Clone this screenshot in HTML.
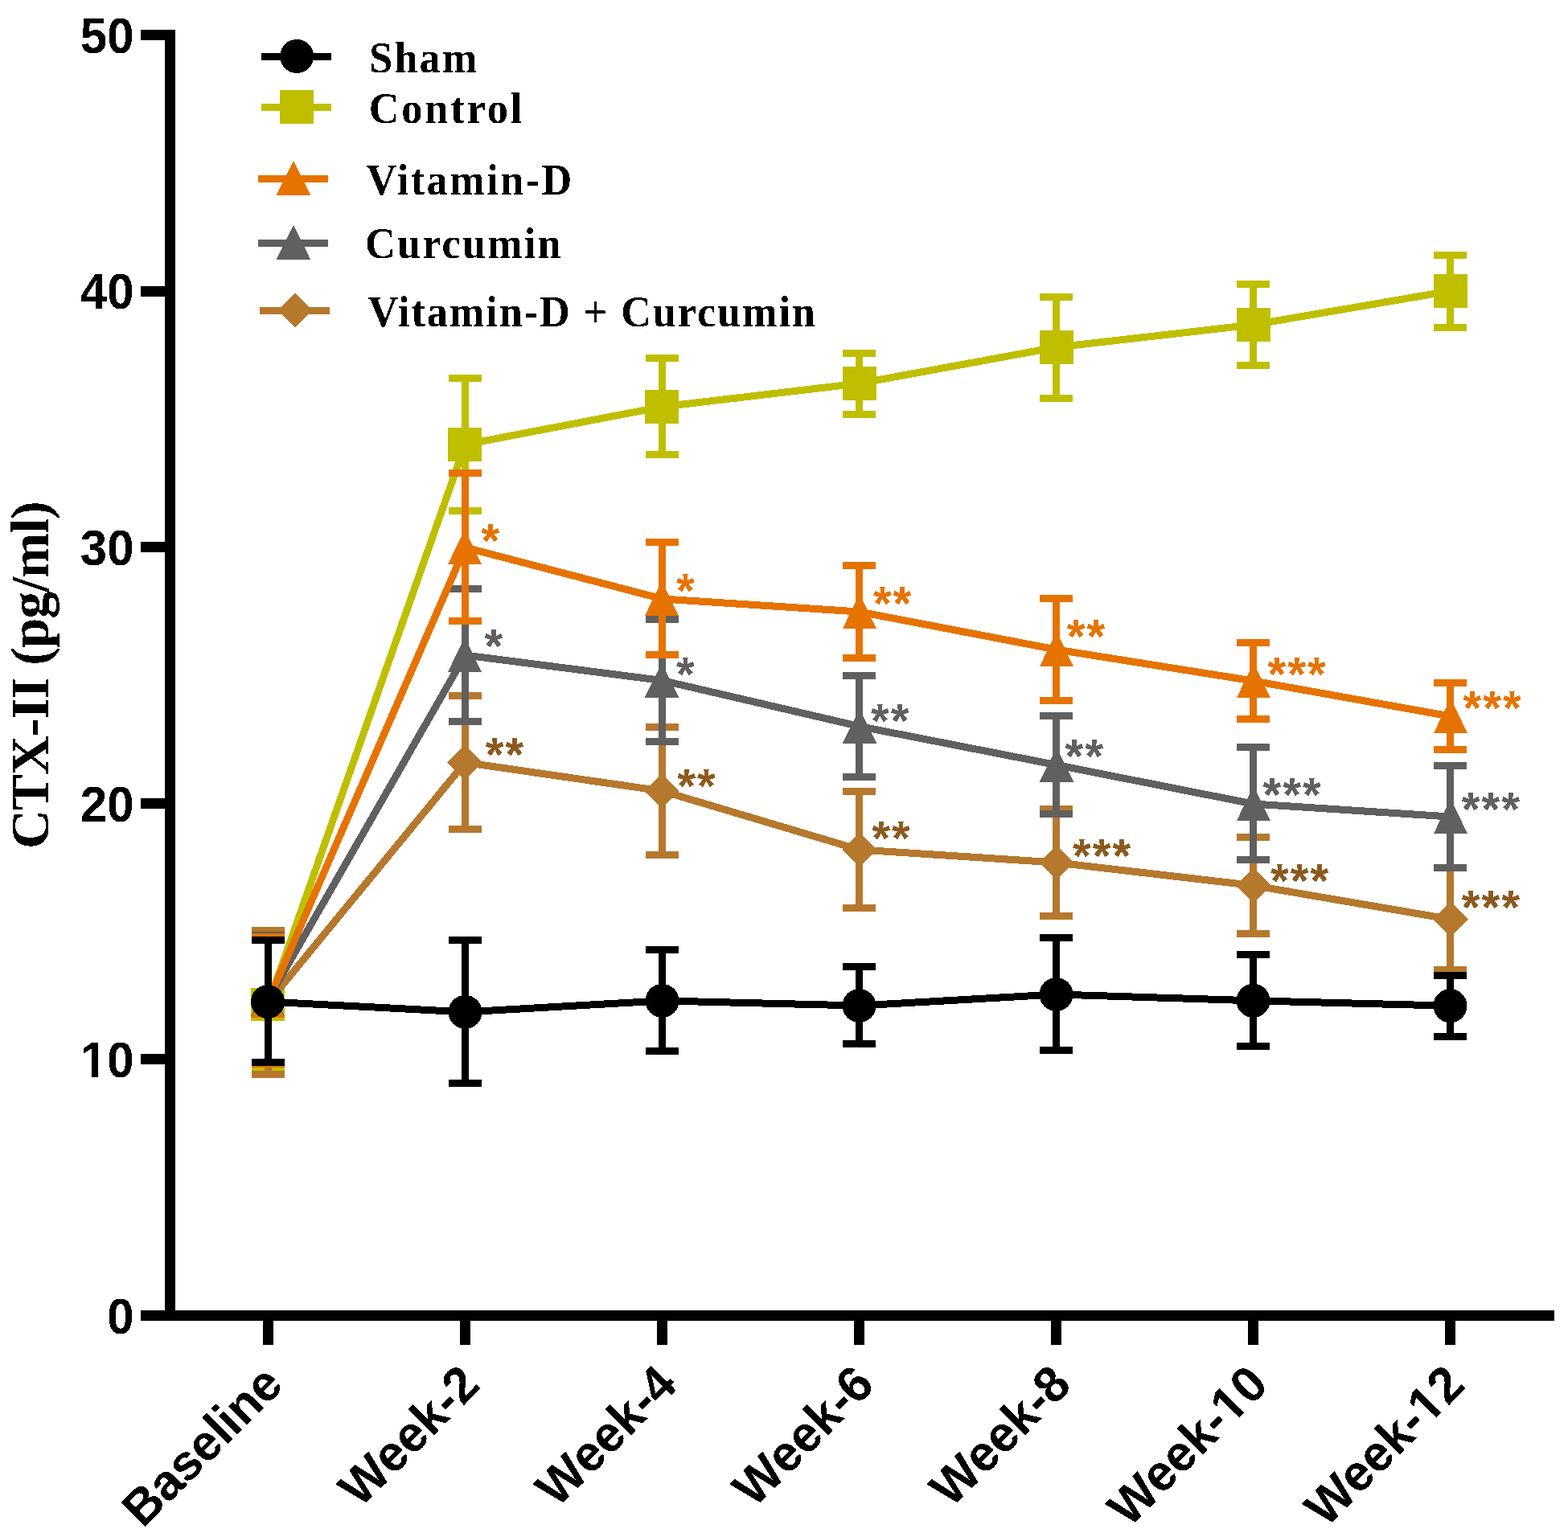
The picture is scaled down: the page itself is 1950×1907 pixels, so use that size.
<!DOCTYPE html>
<html lang="en"><head><meta charset="utf-8"><title>CTX-II (pg/ml)</title>
<style>html,body{margin:0;padding:0;background:#fff}svg{display:block}.sans{font-family:"Liberation Sans",Arial,Helvetica,sans-serif;font-weight:bold}.serif{font-family:"Liberation Serif","Times New Roman",Times,serif;font-weight:bold}</style></head><body>
<svg width="1950" height="1907" viewBox="0 0 1950 1907">
<defs><filter id="thr" filterUnits="userSpaceOnUse" x="0" y="0" width="1950" height="1907" color-interpolation-filters="sRGB"><feComponentTransfer><feFuncA type="discrete" tableValues="0 1"/></feComponentTransfer></filter></defs>
<rect width="1950" height="1907" fill="#fff"/>
<g fill="#000" shape-rendering="crispEdges">
<rect x="205" y="37" width="13" height="1606"/>
<rect x="175" y="1630" width="1758" height="13"/>
<rect x="175" y="1311" width="31" height="13"/>
<rect x="175" y="993" width="31" height="13"/>
<rect x="175" y="674" width="31" height="13"/>
<rect x="175" y="356" width="31" height="13"/>
<rect x="175" y="37" width="31" height="13"/>
<rect x="327" y="1642" width="13" height="31"/>
<rect x="572" y="1642" width="13" height="31"/>
<rect x="817" y="1642" width="13" height="31"/>
<rect x="1062" y="1642" width="13" height="31"/>
<rect x="1307" y="1642" width="13" height="31"/>
<rect x="1552" y="1642" width="13" height="31"/>
<rect x="1797" y="1642" width="13" height="31"/>
</g>
<g shape-rendering="crispEdges">
<polyline points="333.5,1249.5 578.5,553.0 823.5,506.0 1068.5,477.0 1313.5,432.0 1558.5,404.0 1803.5,362.0" fill="none" stroke="#BFBF00" stroke-width="9" stroke-linejoin="round"/>
<rect x="329" y="1165" width="9" height="167" fill="#BFBF00"/>
<rect x="313" y="1165" width="41" height="9" fill="#BFBF00"/>
<rect x="313" y="1323" width="41" height="9" fill="#BFBF00"/>
<rect x="574" y="466" width="9" height="174" fill="#BFBF00"/>
<rect x="558" y="466" width="41" height="9" fill="#BFBF00"/>
<rect x="558" y="631" width="41" height="9" fill="#BFBF00"/>
<rect x="819" y="441" width="9" height="129" fill="#BFBF00"/>
<rect x="803" y="441" width="41" height="9" fill="#BFBF00"/>
<rect x="803" y="561" width="41" height="9" fill="#BFBF00"/>
<rect x="1064" y="435" width="9" height="85" fill="#BFBF00"/>
<rect x="1048" y="435" width="41" height="9" fill="#BFBF00"/>
<rect x="1048" y="511" width="41" height="9" fill="#BFBF00"/>
<rect x="1309" y="365" width="9" height="135" fill="#BFBF00"/>
<rect x="1293" y="365" width="41" height="9" fill="#BFBF00"/>
<rect x="1293" y="491" width="41" height="9" fill="#BFBF00"/>
<rect x="1554" y="349" width="9" height="110" fill="#BFBF00"/>
<rect x="1538" y="349" width="41" height="9" fill="#BFBF00"/>
<rect x="1538" y="450" width="41" height="9" fill="#BFBF00"/>
<rect x="1799" y="313" width="9" height="99" fill="#BFBF00"/>
<rect x="1783" y="313" width="41" height="9" fill="#BFBF00"/>
<rect x="1783" y="403" width="41" height="9" fill="#BFBF00"/>
<rect x="312" y="1229" width="42" height="41" fill="#BFBF00"/>
<rect x="557.0" y="532.0" width="42" height="42" fill="#BFBF00"/>
<rect x="802.0" y="485.0" width="42" height="42" fill="#BFBF00"/>
<rect x="1048.0" y="456.0" width="42" height="42" fill="#BFBF00"/>
<rect x="1293.0" y="411.0" width="42" height="42" fill="#BFBF00"/>
<rect x="1538.0" y="383.0" width="42" height="42" fill="#BFBF00"/>
<rect x="1783.0" y="341.0" width="42" height="42" fill="#BFBF00"/>
</g>
<g shape-rendering="crispEdges">
<polyline points="333.5,1247.0 578.5,948.5 823.5,984.0 1068.5,1057.0 1313.5,1073.0 1558.5,1101.5 1803.5,1143.5" fill="none" stroke="#B5782D" stroke-width="9" stroke-linejoin="round"/>
<rect x="329" y="1153" width="9" height="188" fill="#B5782D"/>
<rect x="313" y="1153" width="41" height="9" fill="#B5782D"/>
<rect x="313" y="1332" width="41" height="9" fill="#B5782D"/>
<rect x="574" y="861" width="9" height="175" fill="#B5782D"/>
<rect x="558" y="861" width="41" height="9" fill="#B5782D"/>
<rect x="558" y="1027" width="41" height="9" fill="#B5782D"/>
<rect x="819" y="900" width="9" height="168" fill="#B5782D"/>
<rect x="803" y="900" width="41" height="9" fill="#B5782D"/>
<rect x="803" y="1059" width="41" height="9" fill="#B5782D"/>
<rect x="1064" y="980" width="9" height="154" fill="#B5782D"/>
<rect x="1048" y="980" width="41" height="9" fill="#B5782D"/>
<rect x="1048" y="1125" width="41" height="9" fill="#B5782D"/>
<rect x="1309" y="1002" width="9" height="142" fill="#B5782D"/>
<rect x="1293" y="1002" width="41" height="9" fill="#B5782D"/>
<rect x="1293" y="1135" width="41" height="9" fill="#B5782D"/>
<rect x="1554" y="1037" width="9" height="129" fill="#B5782D"/>
<rect x="1538" y="1037" width="41" height="9" fill="#B5782D"/>
<rect x="1538" y="1157" width="41" height="9" fill="#B5782D"/>
<rect x="1799" y="1075" width="9" height="136" fill="#B5782D"/>
<rect x="1783" y="1075" width="41" height="9" fill="#B5782D"/>
<rect x="1783" y="1202" width="41" height="9" fill="#B5782D"/>
<path d="M333.0 1225.5L355.0 1247.0L333.0 1268.5L311.0 1247.0Z" fill="#B5782D"/>
<path d="M578.0 927.0L600.0 948.5L578.0 970.0L556.0 948.5Z" fill="#B5782D"/>
<path d="M823.0 962.5L845.0 984.0L823.0 1005.5L801.0 984.0Z" fill="#B5782D"/>
<path d="M1069.0 1035.5L1091.0 1057.0L1069.0 1078.5L1047.0 1057.0Z" fill="#B5782D"/>
<path d="M1314.0 1051.5L1336.0 1073.0L1314.0 1094.5L1292.0 1073.0Z" fill="#B5782D"/>
<path d="M1559.0 1080.0L1581.0 1101.5L1559.0 1123.0L1537.0 1101.5Z" fill="#B5782D"/>
<path d="M1804.0 1122.0L1826.0 1143.5L1804.0 1165.0L1782.0 1143.5Z" fill="#B5782D"/>
</g>
<g shape-rendering="crispEdges">
<polyline points="333.5,1243.0 578.5,815.0 823.5,846.5 1068.5,903.5 1313.5,951.5 1558.5,1000.0 1803.5,1016.0" fill="none" stroke="#606060" stroke-width="9" stroke-linejoin="round"/>
<rect x="329" y="1159" width="9" height="168" fill="#606060"/>
<rect x="313" y="1159" width="41" height="9" fill="#606060"/>
<rect x="313" y="1318" width="41" height="9" fill="#606060"/>
<rect x="574" y="728" width="9" height="174" fill="#606060"/>
<rect x="558" y="728" width="41" height="9" fill="#606060"/>
<rect x="558" y="893" width="41" height="9" fill="#606060"/>
<rect x="819" y="766" width="9" height="161" fill="#606060"/>
<rect x="803" y="766" width="41" height="9" fill="#606060"/>
<rect x="803" y="918" width="41" height="9" fill="#606060"/>
<rect x="1064" y="836" width="9" height="135" fill="#606060"/>
<rect x="1048" y="836" width="41" height="9" fill="#606060"/>
<rect x="1048" y="962" width="41" height="9" fill="#606060"/>
<rect x="1309" y="886" width="9" height="131" fill="#606060"/>
<rect x="1293" y="886" width="41" height="9" fill="#606060"/>
<rect x="1293" y="1008" width="41" height="9" fill="#606060"/>
<rect x="1554" y="925" width="9" height="149" fill="#606060"/>
<rect x="1538" y="925" width="41" height="9" fill="#606060"/>
<rect x="1538" y="1065" width="41" height="9" fill="#606060"/>
<rect x="1799" y="948" width="9" height="136" fill="#606060"/>
<rect x="1783" y="948" width="41" height="9" fill="#606060"/>
<rect x="1783" y="1075" width="41" height="9" fill="#606060"/>
<path d="M333.0 1221.2L354.2 1264.0L311.8 1264.0Z" fill="#606060"/>
<path d="M578.0 793.2L599.2 836.0L556.8 836.0Z" fill="#606060"/>
<path d="M823.0 824.7L844.2 867.5L801.8 867.5Z" fill="#606060"/>
<path d="M1069.0 881.7L1090.2 924.5L1047.8 924.5Z" fill="#606060"/>
<path d="M1314.0 929.7L1335.2 972.5L1292.8 972.5Z" fill="#606060"/>
<path d="M1559.0 978.2L1580.2 1021.0L1537.8 1021.0Z" fill="#606060"/>
<path d="M1804.0 994.2L1825.2 1037.0L1782.8 1037.0Z" fill="#606060"/>
</g>
<g shape-rendering="crispEdges">
<polyline points="333.5,1245.0 578.5,681.0 823.5,745.0 1068.5,761.0 1313.5,808.0 1558.5,847.0 1803.5,891.0" fill="none" stroke="#E67300" stroke-width="9" stroke-linejoin="round"/>
<rect x="329" y="1161" width="9" height="167" fill="#E67300"/>
<rect x="313" y="1161" width="41" height="9" fill="#E67300"/>
<rect x="313" y="1319" width="41" height="9" fill="#E67300"/>
<rect x="574" y="584" width="9" height="193" fill="#E67300"/>
<rect x="558" y="584" width="41" height="9" fill="#E67300"/>
<rect x="558" y="768" width="41" height="9" fill="#E67300"/>
<rect x="819" y="670" width="9" height="149" fill="#E67300"/>
<rect x="803" y="670" width="41" height="9" fill="#E67300"/>
<rect x="803" y="810" width="41" height="9" fill="#E67300"/>
<rect x="1064" y="699" width="9" height="124" fill="#E67300"/>
<rect x="1048" y="699" width="41" height="9" fill="#E67300"/>
<rect x="1048" y="814" width="41" height="9" fill="#E67300"/>
<rect x="1309" y="740" width="9" height="136" fill="#E67300"/>
<rect x="1293" y="740" width="41" height="9" fill="#E67300"/>
<rect x="1293" y="867" width="41" height="9" fill="#E67300"/>
<rect x="1554" y="795" width="9" height="104" fill="#E67300"/>
<rect x="1538" y="795" width="41" height="9" fill="#E67300"/>
<rect x="1538" y="890" width="41" height="9" fill="#E67300"/>
<rect x="1799" y="845" width="9" height="92" fill="#E67300"/>
<rect x="1783" y="845" width="41" height="9" fill="#E67300"/>
<rect x="1783" y="928" width="41" height="9" fill="#E67300"/>
<path d="M333.0 1223.2L354.2 1266.0L311.8 1266.0Z" fill="#E67300"/>
<path d="M578.0 659.2L599.2 702.0L556.8 702.0Z" fill="#E67300"/>
<path d="M823.0 723.2L844.2 766.0L801.8 766.0Z" fill="#E67300"/>
<path d="M1069.0 739.2L1090.2 782.0L1047.8 782.0Z" fill="#E67300"/>
<path d="M1314.0 786.2L1335.2 829.0L1292.8 829.0Z" fill="#E67300"/>
<path d="M1559.0 825.2L1580.2 868.0L1537.8 868.0Z" fill="#E67300"/>
<path d="M1804.0 869.2L1825.2 912.0L1782.8 912.0Z" fill="#E67300"/>
</g>
<g shape-rendering="crispEdges">
<polyline points="333.5,1246.1 578.5,1258.9 823.5,1244.9 1068.5,1251.0 1313.5,1237.0 1558.5,1244.8 1803.5,1251.2" fill="none" stroke="#000000" stroke-width="9" stroke-linejoin="round"/>
<rect x="329" y="1165" width="9" height="161" fill="#000000"/>
<rect x="313" y="1165" width="41" height="9" fill="#000000"/>
<rect x="313" y="1317" width="41" height="9" fill="#000000"/>
<rect x="574" y="1165" width="9" height="187" fill="#000000"/>
<rect x="558" y="1165" width="41" height="9" fill="#000000"/>
<rect x="558" y="1343" width="41" height="9" fill="#000000"/>
<rect x="819" y="1177" width="9" height="135" fill="#000000"/>
<rect x="803" y="1177" width="41" height="9" fill="#000000"/>
<rect x="803" y="1303" width="41" height="9" fill="#000000"/>
<rect x="1064" y="1198" width="9" height="105" fill="#000000"/>
<rect x="1048" y="1198" width="41" height="9" fill="#000000"/>
<rect x="1048" y="1294" width="41" height="9" fill="#000000"/>
<rect x="1309" y="1162" width="9" height="149" fill="#000000"/>
<rect x="1293" y="1162" width="41" height="9" fill="#000000"/>
<rect x="1293" y="1302" width="41" height="9" fill="#000000"/>
<rect x="1554" y="1183" width="9" height="123" fill="#000000"/>
<rect x="1538" y="1183" width="41" height="9" fill="#000000"/>
<rect x="1538" y="1297" width="41" height="9" fill="#000000"/>
<rect x="1799" y="1209" width="9" height="85" fill="#000000"/>
<rect x="1783" y="1209" width="41" height="9" fill="#000000"/>
<rect x="1783" y="1285" width="41" height="9" fill="#000000"/>
<circle cx="333.0" cy="1246.1" r="21" fill="#000000"/>
<circle cx="578.5" cy="1258.9" r="21" fill="#000000"/>
<circle cx="823.5" cy="1244.9" r="21" fill="#000000"/>
<circle cx="1068.5" cy="1251.0" r="21" fill="#000000"/>
<circle cx="1313.5" cy="1237.0" r="21" fill="#000000"/>
<circle cx="1558.5" cy="1244.8" r="21" fill="#000000"/>
<circle cx="1803.5" cy="1251.2" r="21" fill="#000000"/>
</g>
<g shape-rendering="crispEdges"><rect x="325" y="66.0" width="87" height="9" fill="#000000"/>
<circle cx="369.1" cy="70.0" r="21" fill="#000000"/></g>
<g shape-rendering="crispEdges"><rect x="325" y="129.0" width="87" height="9" fill="#BFBF00"/>
<rect x="348.0" y="112.0" width="42" height="42" fill="#BFBF00"/></g>
<g shape-rendering="crispEdges"><rect x="321" y="218.0" width="87" height="9" fill="#E67300"/>
<path d="M365.0 199.9L386.2 242.7L343.8 242.7Z" fill="#E67300"/></g>
<g shape-rendering="crispEdges"><rect x="321" y="298.0" width="87" height="9" fill="#606060"/>
<path d="M365.0 280.1L386.2 322.9L343.8 322.9Z" fill="#606060"/></g>
<g shape-rendering="crispEdges"><rect x="323" y="382.0" width="87" height="9" fill="#B5782D"/>
<path d="M367.0 364.5L389.0 386.0L367.0 407.5L345.0 386.0Z" fill="#B5782D"/></g>
<g filter="url(#thr)">
<g class="sans" font-size="63" text-anchor="end" fill="#000">
<text transform="translate(166.6 1659) scale(0.9524 1)">0</text>
<text transform="translate(166.6 1340) scale(0.9524 1)">10</text>
<g transform="translate(166.6 1340) scale(0.9524 1)" fill="#fff"><rect x="-67.22" y="-7.06" width="11.88" height="8.56"/><rect x="-46.71" y="-7.06" width="10.99" height="8.56"/></g>
<text transform="translate(166.6 1022) scale(0.9524 1)">20</text>
<text transform="translate(166.6 703) scale(0.9524 1)">30</text>
<text transform="translate(166.6 384) scale(0.9524 1)">40</text>
<text transform="translate(166.6 66) scale(0.9524 1)">50</text>
</g>
<text class="serif" font-size="67.5" fill="#000" transform="translate(60 1056) rotate(-90)" textLength="432.8" lengthAdjust="spacing">CTX-II (pg/ml)</text>
<g class="sans" font-size="61.6" text-anchor="end" fill="#000">
<text transform="translate(354.8 1725.3) rotate(-45) scale(1 1.02)" textLength="250.6" lengthAdjust="spacing">Baseline</text>
<text transform="translate(599.8 1725.3) rotate(-45) scale(1 1.02)">Week-2</text>
<text transform="translate(844.8 1725.3) rotate(-45) scale(1 1.02)">Week-4</text>
<text transform="translate(1089.8 1725.3) rotate(-45) scale(1 1.02)">Week-6</text>
<text transform="translate(1334.8 1725.3) rotate(-45) scale(1 1.02)">Week-8</text>
<text transform="translate(1579.8 1725.3) rotate(-45) scale(1 1.02)">Week-10</text>
<g transform="translate(1579.8 1725.3) rotate(-45) scale(1 1.02)" fill="#fff"><rect x="-65.73" y="-6.90" width="11.61" height="8.40"/><rect x="-45.68" y="-6.90" width="10.75" height="8.40"/></g>
<text transform="translate(1824.8 1725.3) rotate(-45) scale(1 1.02)">Week-12</text>
<g transform="translate(1824.8 1725.3) rotate(-45) scale(1 1.02)" fill="#fff"><rect x="-65.73" y="-6.90" width="11.61" height="8.40"/><rect x="-45.68" y="-6.90" width="10.75" height="8.40"/></g>
</g>
<g class="sans" font-size="58.4" letter-spacing="2">
<text x="598.6" y="692.5" fill="#E67300">*</text>
<text x="602.6" y="824.4" fill="#606060">*</text>
<text x="603.7" y="959.4" fill="#8C5A1E">**</text>
<text x="840.9" y="754.8" fill="#E67300">*</text>
<text x="840.9" y="858.5" fill="#606060">*</text>
<text x="842.3" y="997.7" fill="#8C5A1E">**</text>
<text x="1085.9" y="770.6" fill="#E67300">**</text>
<text x="1083.1" y="916.5" fill="#606060">**</text>
<text x="1084.2" y="1063.4" fill="#8C5A1E">**</text>
<text x="1326.7" y="812.4" fill="#E67300">**</text>
<text x="1324.6" y="961.4" fill="#606060">**</text>
<text x="1334.0" y="1084.5" fill="#8C5A1E">***</text>
<text x="1576.5" y="858.5" fill="#E67300">***</text>
<text x="1570.6" y="1009.3" fill="#606060">***</text>
<text x="1580.1" y="1116.1" fill="#8C5A1E">***</text>
<text x="1819.6" y="901.4" fill="#E67300">***</text>
<text x="1817.7" y="1027.3" fill="#606060">***</text>
<text x="1817.7" y="1149.1" fill="#8C5A1E">***</text>
</g>
<text class="serif" font-size="55" transform="translate(459.3 90.1) scale(0.95 1)" fill="#000" textLength="141.1" lengthAdjust="spacing">Sham</text>
<text class="serif" font-size="55" transform="translate(458.7 153.3) scale(0.95 1)" fill="#000" textLength="200.7" lengthAdjust="spacing">Control</text>
<text class="serif" font-size="55" transform="translate(455.4 242.1) scale(0.95 1)" fill="#000" textLength="269.4" lengthAdjust="spacing">Vitamin-D</text>
<text class="serif" font-size="55" transform="translate(454.1 321.4) scale(0.95 1)" fill="#000" textLength="256.3" lengthAdjust="spacing">Curcumin</text>
<text class="serif" font-size="55" transform="translate(457.4 405.8) scale(0.95 1)" fill="#000" textLength="585.8" lengthAdjust="spacing">Vitamin-D + Curcumin</text>
</g>
</svg></body></html>
